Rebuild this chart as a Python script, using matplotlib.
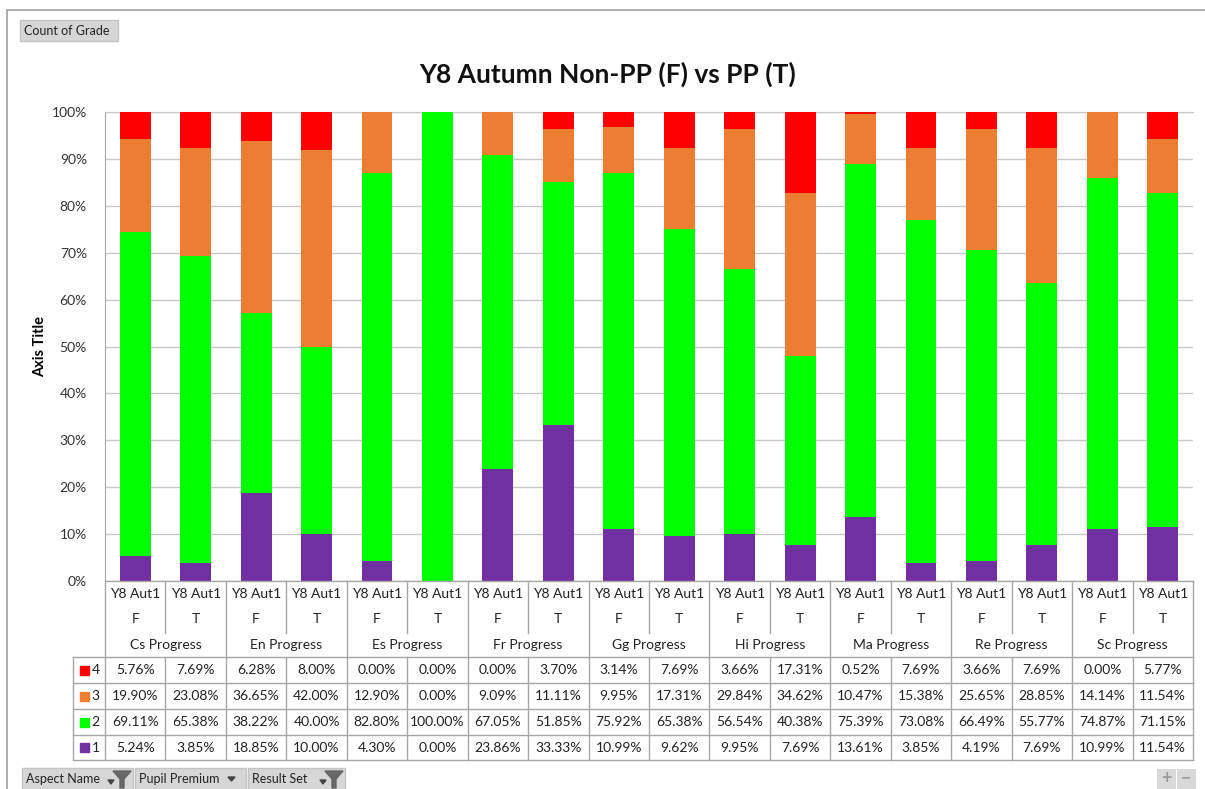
import matplotlib
matplotlib.use("Agg")
import matplotlib.pyplot as plt
import numpy as np
from matplotlib.patches import Rectangle, Polygon

plt.rcParams['font.family'] = ['Lato', 'DejaVu Sans']

# data (percent of each column)
subjects = ['Cs', 'En', 'Es', 'Fr', 'Gg', 'Hi', 'Ma', 'Re', 'Sc']
pp_flags = ['F', 'T']
result_set = 'Y8 Aut1'
grades = ['4', '3', '2', '1']
g4 = [5.76, 7.69, 6.28, 8.00, 0.00, 0.00, 0.00, 3.70, 3.14, 7.69,
      3.66, 17.31, 0.52, 7.69, 3.66, 7.69, 0.00, 5.77]
g3 = [19.90, 23.08, 36.65, 42.00, 12.90, 0.00, 9.09, 11.11, 9.95, 17.31,
      29.84, 34.62, 10.47, 15.38, 25.65, 28.85, 14.14, 11.54]
g2 = [69.11, 65.38, 38.22, 40.00, 82.80, 100.00, 67.05, 51.85, 75.92, 65.38,
      56.54, 40.38, 75.39, 73.08, 66.49, 55.77, 74.87, 71.15]
g1 = [5.24, 3.85, 18.85, 10.00, 4.30, 0.00, 23.86, 33.33, 10.99, 9.62,
      9.95, 7.69, 13.61, 3.85, 4.19, 7.69, 10.99, 11.54]
colors = {'4': '#FF0000', '3': '#ED7D31', '2': '#00FF00', '1': '#7030A0'}

W, H = 1205, 789
fig = plt.figure(figsize=(W / 100, H / 100), dpi=100)

def fbox(x0, y0, x1, y1):
    # pixel box -> figure fraction rect
    return [x0 / W, 1 - y1 / H, (x1 - x0) / W, (y1 - y0) / H]

n = len(g1)
x = np.arange(n)
vals = {'1': np.array(g1), '2': np.array(g2), '3': np.array(g3), '4': np.array(g4)}

# ---- chart ----
ax = fig.add_axes(fbox(105, 112, 1193, 581))
bottom = np.zeros(n)
for g in ['1', '2', '3', '4']:
    ax.bar(x, vals[g], 0.51, bottom=bottom, color=colors[g], zorder=3)
    bottom += vals[g]
ax.set_xlim(-0.5, n - 0.5)
ax.set_ylim(0, 100)
ax.set_yticks(np.arange(0, 101, 10))
ax.set_yticklabels([f'{v}%' for v in range(0, 101, 10)], fontsize=10, color='#333333')
ax.set_xticks([])
ax.tick_params(axis='y', length=0, pad=13)
ax.grid(axis='y', color='#C8C8C8', linewidth=1, zorder=0)
for s in ['right', 'bottom']:
    ax.spines[s].set_visible(False)
ax.spines['left'].set_color('#A6A6A6')
ax.spines['top'].set_color('#C8C8C8')
ax.set_ylabel('Axis Title', fontsize=10.5, fontweight='bold')
ax.yaxis.set_label_coords((47 - 105) / 1088, 0.5)

fig.text(608 / W, 1 - 74 / H, 'Y8 Autumn Non-PP (F) vs PP (T)', ha='center', va='center',
         fontsize=19, fontweight='bold', color='#111111')

# ---- data table under the chart ----
unit = (1193 - 105) / n
tl = -0.5 - (105 - 73) / unit
at = fig.add_axes(fbox(73, 581, 1193, 761))
at.set_xlim(tl, n - 0.5)
at.set_ylim(761, 581)
at.axis('off')
lc = '#A6A6A6'
row_y = [657, 683, 709, 735, 760]
for yy in row_y:
    at.plot([tl, n - 0.5], [yy, yy], color=lc, lw=1, clip_on=False)
at.plot([-0.5, n - 0.5], [581, 581], color=lc, lw=1, clip_on=False)
at.plot([tl, tl], [657, 760], color=lc, lw=1, clip_on=False)
for b in np.arange(-0.5, n, 1):
    if int(b + 0.5) % 2 == 0:
        at.plot([b, b], [581, 760], color=lc, lw=1, clip_on=False)
    else:
        at.plot([b, b], [581, 633], color=lc, lw=1, clip_on=False)
        at.plot([b, b], [657, 760], color=lc, lw=1, clip_on=False)

tfs = 10
for i in range(n):
    at.text(i, 594, result_set, ha='center', va='center', fontsize=tfs, color='#222222')
    at.text(i, 619, pp_flags[i % 2], ha='center', va='center', fontsize=tfs, color='#222222')
for j, s in enumerate(subjects):
    at.text(2 * j + 0.5, 645, f'{s} Progress', ha='center', va='center', fontsize=tfs, color='#222222')

for r, g in enumerate(grades):
    yc = (row_y[r] + row_y[r + 1]) / 2
    at.add_patch(Rectangle((tl + 0.12, yc - 4.5), 0.15, 9, color=colors[g], clip_on=False))
    at.text(tl + 0.31, yc, g, ha='left', va='center', fontsize=tfs, color='#222222')
    for i in range(n):
        at.text(i, yc, f'{vals[g][i]:.2f}%', ha='center', va='center', fontsize=tfs, color='#222222')

# ---- pivot chart furniture ----
ov = fig.add_axes([0, 0, 1, 1], zorder=-1)
ov.set_xlim(0, W)
ov.set_ylim(H, 0)
ov.axis('off')
ov.plot([7, 7, W], [H, 10, 10], color='#A0A0A0', lw=1.2)

def button(x0, x1, label, icon):
    ov.add_patch(Rectangle((x0, 768), x1 - x0, 22, facecolor='#D6D6D6', edgecolor='#C4C4C4', lw=1))
    ov.text(x0 + 4, 779, label, ha='left', va='center', fontsize=9, color='#222222')
    if icon == 'filter':
        ov.add_patch(Polygon([[x1 - 20, 771], [x1 - 2, 771], [x1 - 9, 779], [x1 - 9, 788], [x1 - 13, 788], [x1 - 13, 779]],
                             closed=True, color='#666666'))
        ov.add_patch(Polygon([[x1 - 25, 780], [x1 - 19, 780], [x1 - 22, 784]], closed=True, color='#444444'))
    else:
        ov.add_patch(Polygon([[x1 - 18, 777], [x1 - 11, 777], [x1 - 14.5, 781]], closed=True, color='#444444'))

button(22, 133, 'Aspect Name', 'filter')
button(135, 246, 'Pupil Premium', 'drop')
button(248, 345, 'Result Set', 'filter')

ov.add_patch(Rectangle((20, 20), 98, 21, facecolor='#D6D6D6', edgecolor='#C4C4C4', lw=1))
ov.text(24, 31, 'Count of Grade', ha='left', va='center', fontsize=9, color='#222222')

ov.add_patch(Rectangle((1157, 769), 19, 20, facecolor='#D9D9D9', edgecolor='none'))
ov.add_patch(Rectangle((1177, 769), 19, 20, facecolor='#D9D9D9', edgecolor='none'))
ov.text(1166.5, 779, '+', ha='center', va='center', fontsize=13, color='#9A9A9A', fontweight='bold')
ov.text(1186.5, 778, '\u2212', ha='center', va='center', fontsize=13, color='#9A9A9A', fontweight='bold')

fig.savefig('out.png', dpi=100)
